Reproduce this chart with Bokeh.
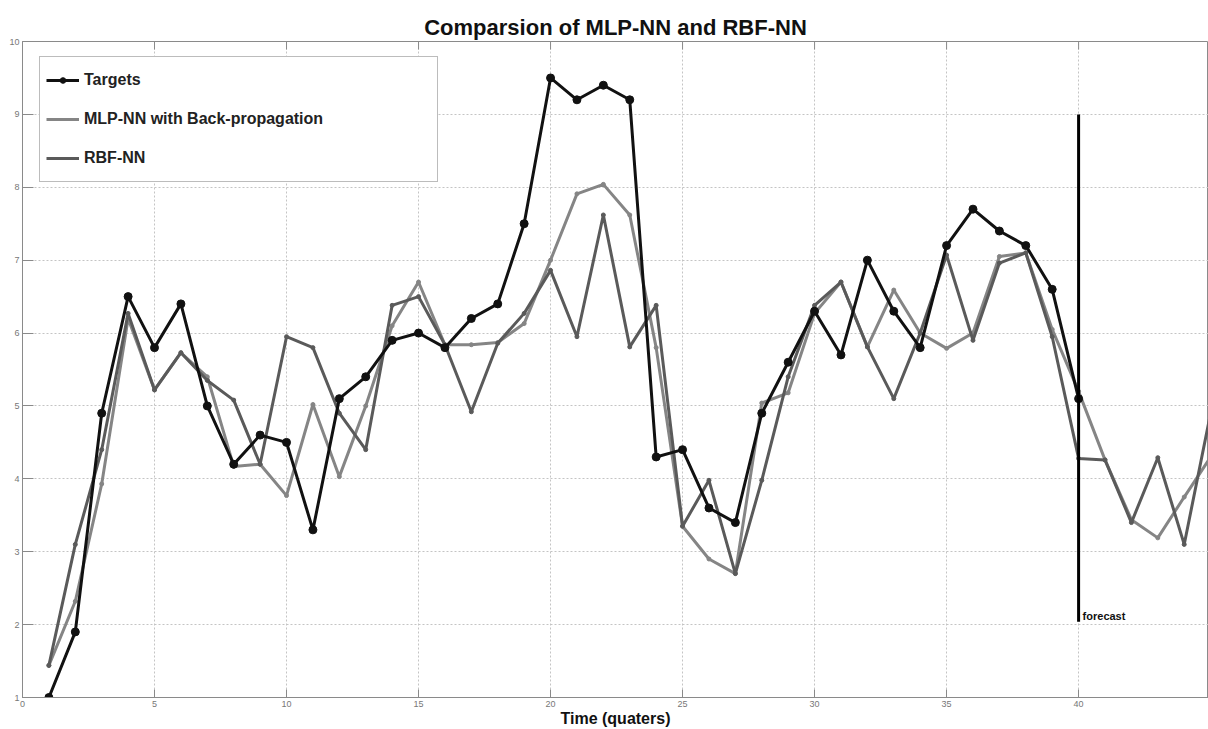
from bokeh.plotting import figure
from bokeh.models import Range1d, FixedTicker, Legend, LegendItem, Label
from bokeh.embed import file_html
from bokeh.resources import INLINE

# ---- data ----
quarters_targets = list(range(1, 41))
targets = [1.0, 1.9, 4.9, 6.5, 5.8, 6.4, 5.0, 4.2, 4.6, 4.5,
           3.3, 5.1, 5.4, 5.9, 6.0, 5.8, 6.2, 6.4, 7.5, 9.5,
           9.2, 9.4, 9.2, 4.3, 4.4, 3.6, 3.4, 4.9, 5.6, 6.3,
           5.7, 7.0, 6.3, 5.8, 7.2, 7.7, 7.4, 7.2, 6.6, 5.1]

quarters_models = list(range(1, 46))
mlp = [1.44, 2.32, 3.93, 6.2, 5.22, 5.73, 5.4, 4.17, 4.2, 3.77,
       5.02, 4.03, 5.0, 6.1, 6.7, 5.84, 5.84, 5.87, 6.13, 7.0,
       7.91, 8.04, 7.62, 5.8, 3.35, 2.9, 2.7, 5.04, 5.18, 6.27,
       6.7, 5.81, 6.59, 6.0, 5.79, 6.0, 7.05, 7.1, 6.05, 5.2,
       4.26, 3.44, 3.19, 3.75, 4.3]
rbf = [1.44, 3.1, 4.4, 6.27, 5.22, 5.73, 5.35, 5.08, 4.2, 5.95,
       5.8, 4.9, 4.4, 6.38, 6.5, 5.84, 4.92, 5.86, 6.27, 6.86,
       5.95, 7.62, 5.81, 6.38, 3.35, 3.98, 2.7, 3.98, 5.4, 6.38,
       6.7, 5.81, 5.1, 6.0, 7.07, 5.9, 6.96, 7.1, 5.95, 4.28,
       4.26, 3.4, 4.29, 3.1, 4.9]

x_ticks = [0, 5, 10, 15, 20, 25, 30, 35, 40, 45]
y_ticks = [1, 2, 3, 4, 5, 6, 7, 8, 9, 10]
forecast_x = 40
forecast_y = [2.04, 9.0]

title_text = "Comparsion of MLP-NN and RBF-NN"
xlabel_text = "Time (quaters)"
series_names = ["Targets", "MLP-NN with Back-propagation", "RBF-NN"]

FONT = "Liberation Sans"
C_T, C_MLP, C_RBF = "#111111", "#858585", "#5a5a5a"
Y_MIN, Y_MAX = 1, 10

p = figure(width=1208, height=729, output_backend="svg", toolbar_location=None,
           x_range=Range1d(0, 44.92), y_range=Range1d(Y_MIN, Y_MAX),
           min_border_left=22, min_border_right=0, min_border_top=41, min_border_bottom=31)
p.background_fill_color = "white"
p.border_fill_color = "white"
p.outline_line_color = "#8a8a8a"
p.outline_line_width = 1

p.title.text = title_text
p.title.align = "center"
p.title.standoff = 3
p.title.text_font = FONT
p.title.text_font_style = "bold"
p.title.text_font_size = "22px"
p.title.text_color = "#111111"

for ax in (p.xaxis[0], p.yaxis[0]):
    ax.axis_line_color = "#8a8a8a"
    ax.major_tick_line_color = "#8a8a8a"
    ax.major_tick_out = 0
    ax.minor_tick_line_color = None
    ax.major_label_text_font = FONT
    ax.major_label_text_font_size = "9px"
    ax.major_label_text_color = "#777777"
    ax.major_label_standoff = 3
p.xaxis[0].ticker = FixedTicker(ticks=x_ticks)
p.yaxis[0].ticker = FixedTicker(ticks=y_ticks)
p.xaxis[0].major_tick_in = 8
p.yaxis[0].major_tick_in = 11
p.xaxis[0].axis_label = xlabel_text
p.xaxis[0].axis_label_standoff = 0
p.xaxis[0].axis_label_text_font = FONT
p.xaxis[0].axis_label_text_font_style = "bold"
p.xaxis[0].axis_label_text_font_size = "16px"
p.xaxis[0].axis_label_text_color = "#111111"

p.xgrid.ticker = FixedTicker(ticks=x_ticks)
p.ygrid.ticker = FixedTicker(ticks=y_ticks)
for g in (p.xgrid[0], p.ygrid[0]):
    g.grid_line_color = "#c4c4c4"
    g.grid_line_dash = "2 2"
    g.grid_line_width = 1

# top-edge tick marks (box style axes)
p.segment(x0=x_ticks, y0=[Y_MAX] * len(x_ticks), x1=x_ticks,
          y1=[Y_MAX - 0.11] * len(x_ticks), line_color="#8a8a8a", line_width=1)

# series
l_mlp = p.line(quarters_models, mlp, line_color=C_MLP, line_width=3)
s_mlp = p.scatter(quarters_models, mlp, size=4, color=C_MLP)
l_rbf = p.line(quarters_models, rbf, line_color=C_RBF, line_width=3)
s_rbf = p.scatter(quarters_models, rbf, size=4, color=C_RBF)
l_t = p.line(quarters_targets, targets, line_color=C_T, line_width=3)
s_t = p.scatter(quarters_targets, targets, size=8, color=C_T)

p.segment(x0=[forecast_x], y0=[forecast_y[0]], x1=[forecast_x], y1=[forecast_y[1]],
          line_color="#000000", line_width=3)
p.add_layout(Label(x=forecast_x, y=forecast_y[0], x_offset=4, text="forecast",
                   text_font=FONT, text_font_style="bold", text_font_size="11px",
                   text_color="#111111", text_baseline="bottom", text_align="left"))

legend = Legend(items=[LegendItem(label=series_names[0], renderers=[l_t, s_t]),
                       LegendItem(label=series_names[1], renderers=[l_mlp]),
                       LegendItem(label=series_names[2], renderers=[l_rbf])],
                location=(17, 515), padding=6, spacing=5, glyph_width=33, glyph_height=14,
                label_standoff=5, label_width=347, label_height=34,
                label_text_font=FONT, label_text_font_style="bold",
                label_text_font_size="16px", label_text_color="#222222",
                border_line_color="#7a7a7a", border_line_width=1.5,
                background_fill_color="white", background_fill_alpha=1.0, margin=0)
p.add_layout(legend, "center")

open("out.html", "w").write(file_html(p, INLINE))
